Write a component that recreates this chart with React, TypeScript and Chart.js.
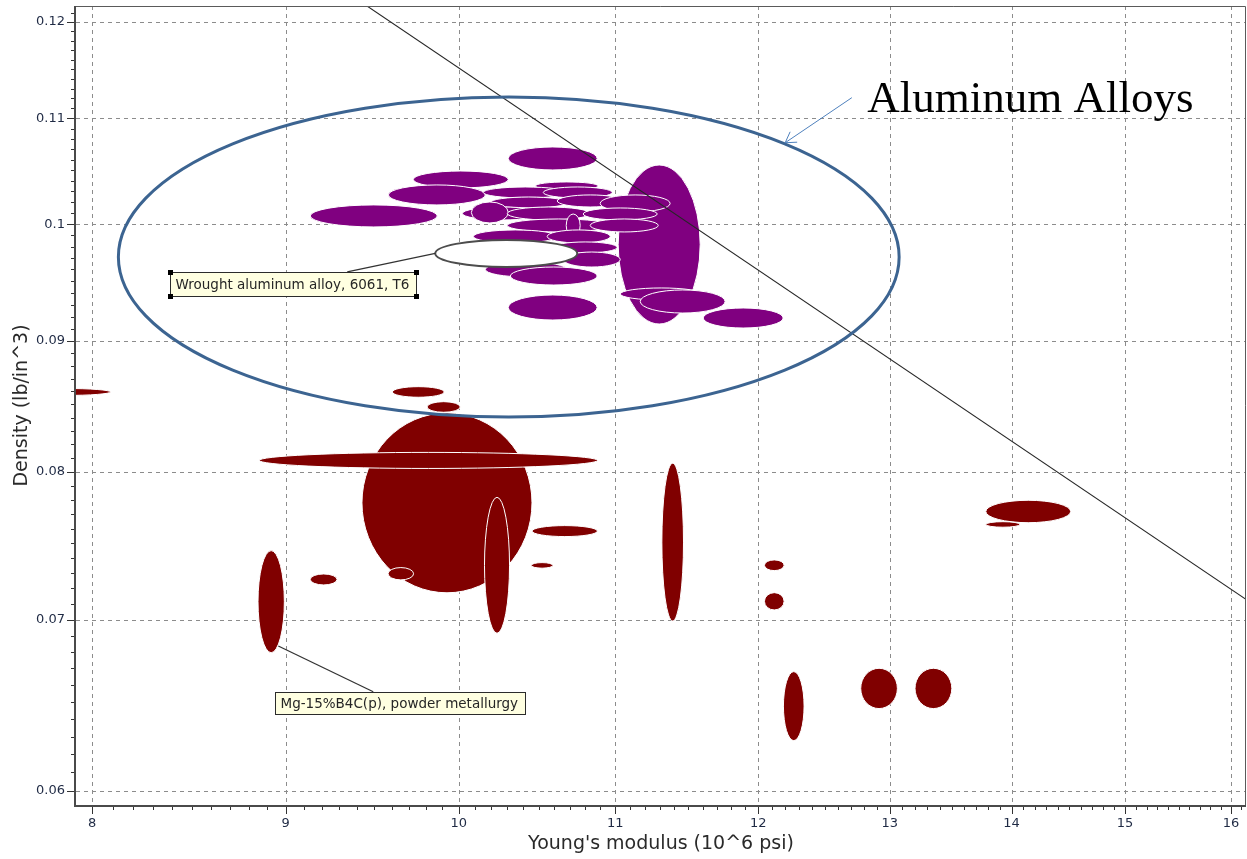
import { useEffect, useRef } from "react";
import { Chart, registerables } from "chart.js";

Chart.register(...registerables);

// Each range: [E low, E high, density low, density high] (10^6 psi, lb/in^3)
type Range = [number, number, number, number];

const xTicks = [8, 9, 10, 11, 12, 13, 14, 15, 16];
const xTickLabels = ["8", "9", "10", "11", "12", "13", "14", "15", "16"];
const yTicks = [0.06, 0.07, 0.08, 0.09, 0.1, 0.11, 0.12];
const yTickLabels = ["0.06", "0.07", "0.08", "0.09", "0.1", "0.11", "0.12"];
const xLimits = [7.922, 16.147];
const yLimits = [0.05923, 0.12174];

// Aluminium alloys (purple bubbles)
const aluminumRanges: Range[] = [
  [11.019, 11.583, 0.09139, 0.10548],
  [10.306, 10.879, 0.10501, 0.10721],
  [9.727, 10.306, 0.10332, 0.10491],
  [9.581, 10.163, 0.10175, 0.1036],
  [9.136, 9.87, 0.09975, 0.10175],
  [10.477, 10.886, 0.10313, 0.10388],
  [10.15, 10.683, 0.10239, 0.10341],
  [10.528, 10.979, 0.10239, 0.10341],
  [10.194, 10.683, 0.10147, 0.10248],
  [10.618, 11.053, 0.10156, 0.10267],
  [10.899, 11.373, 0.10111, 0.10267],
  [10.022, 10.528, 0.10038, 0.10156],
  [10.077, 10.306, 0.10011, 0.10202],
  [10.3, 10.833, 0.10038, 0.10156],
  [10.787, 11.284, 0.10038, 0.10147],
  [10.3, 10.966, 0.0993, 0.10047],
  [10.833, 11.291, 0.0993, 0.10047],
  [10.676, 10.767, 0.09885, 0.10092],
  [10.089, 10.618, 0.09832, 0.09948],
  [10.553, 10.966, 0.09832, 0.09948],
  [10.592, 11.012, 0.09744, 0.09841],
  [10.657, 11.033, 0.09621, 0.09752],
  [10.163, 10.683, 0.09535, 0.09665],
  [10.319, 10.879, 0.09466, 0.09621],
  [10.306, 10.879, 0.09172, 0.09381],
  [11.033, 11.597, 0.09339, 0.09441],
  [11.168, 11.76, 0.0923, 0.09424],
  [11.604, 12.183, 0.09106, 0.09272],
];

// Highlighted record: Wrought aluminum alloy, 6061, T6
const selectedRange: Range = [9.858, 10.748, 0.09621, 0.09859];

// Magnesium alloys and composites (maroon bubbles)
const magnesiumRanges: Range[] = [
  [7.658, 8.09, 0.08569, 0.08623],
  [9.604, 9.912, 0.08555, 0.08637],
  [9.809, 10.009, 0.0844, 0.08521],
  [9.428, 10.456, 0.07172, 0.08435],
  [8.857, 10.881, 0.08023, 0.0814],
  [9.579, 9.729, 0.07256, 0.07337],
  [10.158, 10.314, 0.06915, 0.07817],
  [9.136, 9.286, 0.07223, 0.07295],
  [8.85, 8.993, 0.06795, 0.0745],
  [10.456, 10.881, 0.07545, 0.0762],
  [10.451, 10.59, 0.07333, 0.0737],
  [11.316, 11.466, 0.06992, 0.08061],
  [12.045, 12.19, 0.07317, 0.07388],
  [12.045, 12.19, 0.07062, 0.07173],
  [12.185, 12.339, 0.06277, 0.0668],
  [13.782, 14.513, 0.0764, 0.07796],
  [13.782, 14.072, 0.07609, 0.07647],
  [12.772, 13.06, 0.06461, 0.067],
  [13.201, 13.5, 0.06461, 0.067],
];

// Slope -1 guide line
const guideX = [9.2, 16.5];
const guideY = [0.12514, 0.069776];

// Family outline for the aluminium group
const familyRange: Range = [8.129, 13.074, 0.08404, 0.11215];
const familyLabel = "Aluminum Alloys";
const familyLabelAt = [12.822, 0.11065];
const arrowFrom = [12.703, 0.11208];
const arrowTo = [12.198, 0.10762];

const wroughtLabel = "Wrought aluminum alloy, 6061, T6";
const wroughtBoxAt = [8.39, 0.09578];
const wroughtLeaderAt = [9.344, 0.09578];

const mgLabel = "Mg-15%B4C(p), powder metallurgy";
const mgBoxAt = [8.944, 0.0656];
const mgLeaderFrom = [8.96, 0.06836];
const mgLeaderTo = [9.493, 0.0656];

const PURPLE = "#800080";
const MAROON = "#800000";
const FONT = "'DejaVu Sans', Tahoma, sans-serif";

function ellipsePath(ctx: CanvasRenderingContext2D, sx: any, sy: any, r: Range) {
  const x0 = sx.getPixelForValue(r[0]);
  const x1 = sx.getPixelForValue(r[1]);
  const y0 = sy.getPixelForValue(r[2]);
  const y1 = sy.getPixelForValue(r[3]);
  ctx.beginPath();
  ctx.ellipse((x0 + x1) / 2, (y0 + y1) / 2, Math.abs(x1 - x0) / 2, Math.abs(y1 - y0) / 2, 0, 0, Math.PI * 2);
}

function minorValues(lo: number, hi: number, step: number): number[] {
  const out: number[] = [];
  const n0 = Math.ceil(lo / step - 1e-9);
  const n1 = Math.floor(hi / step + 1e-9);
  for (let n = n0; n <= n1; n++) out.push(n * step);
  return out;
}

const noScalePadding = (s: any) => {
  s.paddingTop = 0;
  s.paddingBottom = 0;
  s.paddingLeft = 0;
  s.paddingRight = 0;
};

const ashbyPlugin = {
  id: "ashby",
  beforeDatasetsDraw(chart: any) {
    const { ctx, chartArea: a } = chart;
    const sx = chart.scales.x;
    const sy = chart.scales.y;

    // dashed grid
    ctx.save();
    ctx.strokeStyle = "#8c8c8c";
    ctx.lineWidth = 1;
    ctx.setLineDash([4, 4]);
    for (const v of xTicks) {
      const p = Math.round(sx.getPixelForValue(v)) + 0.5;
      ctx.beginPath();
      ctx.moveTo(p, a.top);
      ctx.lineTo(p, a.bottom);
      ctx.stroke();
    }
    for (const v of yTicks) {
      const p = Math.round(sy.getPixelForValue(v)) + 0.5;
      ctx.beginPath();
      ctx.moveTo(a.left, p);
      ctx.lineTo(a.right, p);
      ctx.stroke();
    }
    ctx.restore();

    // material bubbles
    ctx.save();
    ctx.beginPath();
    ctx.rect(a.left, a.top, a.right - a.left, a.bottom - a.top);
    ctx.clip();
    const family = (list: Range[], fill: string) => {
      for (const r of list) {
        ellipsePath(ctx, sx, sy, r);
        ctx.fillStyle = fill;
        ctx.fill();
        ctx.strokeStyle = "#ffffff";
        ctx.lineWidth = 1;
        ctx.stroke();
      }
    };
    family(magnesiumRanges, MAROON);
    family(aluminumRanges, PURPLE);
    ellipsePath(ctx, sx, sy, selectedRange);
    ctx.fillStyle = "#ffffff";
    ctx.fill();
    ctx.strokeStyle = "#4d4d4d";
    ctx.lineWidth = 2;
    ctx.stroke();
    ctx.restore();
  },
  afterDatasetsDraw(chart: any) {
    const { ctx, chartArea: a } = chart;
    const sx = chart.scales.x;
    const sy = chart.scales.y;
    const P = (pt: number[]) => [sx.getPixelForValue(pt[0]), sy.getPixelForValue(pt[1])];

    // family outline
    ctx.save();
    ellipsePath(ctx, sx, sy, familyRange);
    ctx.strokeStyle = "#3c6491";
    ctx.lineWidth = 3;
    ctx.stroke();

    // arrow to the outline
    const [fx, fy] = P(arrowFrom);
    const [tx, ty] = P(arrowTo);
    ctx.strokeStyle = "#4f81bd";
    ctx.lineWidth = 1;
    ctx.beginPath();
    ctx.moveTo(fx, fy);
    ctx.lineTo(tx, ty);
    const ang = Math.atan2(fy - ty, fx - tx);
    for (const s of [-1, 1]) {
      ctx.moveTo(tx, ty);
      ctx.lineTo(tx + 12 * Math.cos(ang + s * 0.55), ty + 12 * Math.sin(ang + s * 0.55));
    }
    ctx.stroke();

    const [lx, ly] = P(familyLabelAt);
    ctx.fillStyle = "#000000";
    ctx.font = "45px 'Liberation Serif', 'Times New Roman', serif";
    ctx.textBaseline = "alphabetic";
    ctx.textAlign = "left";
    ctx.fillText(familyLabel, lx, ly);
    ctx.restore();

    // record labels
    const labelBox = (text: string, at: number[], h: number, handles: boolean) => {
      ctx.save();
      ctx.font = "13.5px " + FONT;
      const w = Math.round(ctx.measureText(text).width + 12);
      const [bx0, by0] = P(at);
      const bx = Math.round(bx0) + 0.5;
      const by = Math.round(by0) + 0.5;
      ctx.fillStyle = "#ffffe1";
      ctx.fillRect(bx, by, w, h);
      ctx.strokeStyle = "#2b2b2b";
      ctx.lineWidth = 1;
      ctx.strokeRect(bx, by, w, h);
      ctx.fillStyle = "#262626";
      ctx.textBaseline = "middle";
      ctx.fillText(text, bx + 5, by + h / 2 + 1);
      if (handles) {
        ctx.fillStyle = "#000000";
        for (const cx of [bx, bx + w]) for (const cy of [by, by + h]) ctx.fillRect(cx - 2.5, cy - 2.5, 5, 5);
      }
      ctx.restore();
    };
    const leader = (p0: number[], p1: number[]) => {
      ctx.save();
      ctx.strokeStyle = "#333333";
      ctx.lineWidth = 1.3;
      ctx.beginPath();
      ctx.moveTo(p0[0], p0[1]);
      ctx.lineTo(p1[0], p1[1]);
      ctx.stroke();
      ctx.restore();
    };
    const selLeft = [
      sx.getPixelForValue(selectedRange[0]),
      (sy.getPixelForValue(selectedRange[2]) + sy.getPixelForValue(selectedRange[3])) / 2,
    ];
    leader(P(wroughtLeaderAt), selLeft);
    labelBox(wroughtLabel, wroughtBoxAt, 24, true);
    leader(P(mgLeaderFrom), P(mgLeaderTo));
    labelBox(mgLabel, mgBoxAt, 22, false);

    // frame and tick marks
    ctx.save();
    ctx.strokeStyle = "#5a5a5a";
    ctx.lineWidth = 1;
    ctx.beginPath();
    ctx.moveTo(a.left, a.top + 0.5);
    ctx.lineTo(a.right - 0.5, a.top + 0.5);
    ctx.lineTo(a.right - 0.5, a.bottom);
    ctx.stroke();
    ctx.strokeStyle = "#4a4a4a";
    ctx.lineWidth = 2;
    ctx.beginPath();
    ctx.moveTo(a.left - 1, a.top);
    ctx.lineTo(a.left - 1, a.bottom + 1);
    ctx.lineTo(a.right, a.bottom + 1);
    ctx.stroke();
    ctx.lineWidth = 1;
    ctx.strokeStyle = "#333333";
    ctx.beginPath();
    for (const v of minorValues(xLimits[0], xLimits[1], 0.1)) {
      const major = Math.abs(v - Math.round(v)) < 1e-6;
      const p = Math.round(sx.getPixelForValue(v)) + 0.5;
      ctx.moveTo(p, a.bottom + 2);
      ctx.lineTo(p, a.bottom + (major ? 9 : 5));
    }
    for (const v of minorValues(yLimits[0], yLimits[1], 0.001)) {
      const major = yTicks.some((t) => Math.abs(t - v) < 1e-7);
      const p = Math.round(sy.getPixelForValue(v)) + 0.5;
      ctx.moveTo(a.left - 2, p);
      ctx.lineTo(a.left - (major ? 9 : 5), p);
    }
    ctx.stroke();
    ctx.restore();
  },
};

export default function App() {
  const ref = useRef<HTMLCanvasElement | null>(null);

  useEffect(() => {
    if (!ref.current) return;
    const chart = new Chart(ref.current, {
      type: "line",
      data: {
        datasets: [
          {
            data: guideX.map((x, i) => ({ x, y: guideY[i] })),
            borderColor: "#262626",
            borderWidth: 1.1,
            pointRadius: 0,
            fill: false,
            tension: 0,
          },
        ],
      },
      options: {
        animation: false,
        responsive: false,
        events: [],
        layout: { padding: { top: 6, right: 1, left: 0, bottom: 0 } },
        plugins: { legend: { display: false }, tooltip: { enabled: false } },
        scales: {
          x: {
            type: "logarithmic",
            position: "bottom",
            min: xLimits[0],
            max: xLimits[1],
            bounds: "data",
            grid: { display: false, drawTicks: false },
            border: { display: false },
            afterBuildTicks: (s: any) => {
              s.ticks = xTicks.map((value) => ({ value }));
            },
            afterFit: (s: any) => {
              s.height = 54;
              noScalePadding(s);
            },
            ticks: {
              autoSkip: false,
              maxRotation: 0,
              padding: 11,
              color: "#1f2a44",
              font: { family: FONT, size: 13 },
              callback: (_v: any, i: number) => xTickLabels[i],
            },
            title: {
              display: true,
              text: "Young's modulus (10^6 psi)",
              color: "#2a2a2a",
              font: { family: FONT, size: 19 },
              padding: { top: 0, bottom: 4 },
            },
          },
          y: {
            type: "logarithmic",
            position: "left",
            min: yLimits[0],
            max: yLimits[1],
            bounds: "data",
            grid: { display: false, drawTicks: false },
            border: { display: false },
            afterBuildTicks: (s: any) => {
              s.ticks = yTicks.map((value) => ({ value }));
            },
            afterFit: (s: any) => {
              s.width = 76;
              noScalePadding(s);
            },
            ticks: {
              autoSkip: false,
              padding: 11,
              color: "#1f2a44",
              font: { family: FONT, size: 13 },
              callback: (_v: any, i: number) => yTickLabels[i],
            },
            title: {
              display: true,
              text: "Density (lb/in^3)",
              color: "#2a2a2a",
              font: { family: FONT, size: 19 },
              padding: { top: 11, bottom: 0 },
            },
          },
        },
      },
      plugins: [ashbyPlugin],
    } as any);
    return () => chart.destroy();
  }, []);

  return (
    <div style={{ position: "absolute", left: 0, top: 0, width: 1247, height: 859, background: "#ffffff" }}>
      <canvas ref={ref} width={1247} height={859} style={{ display: "block" }} />
    </div>
  );
}
